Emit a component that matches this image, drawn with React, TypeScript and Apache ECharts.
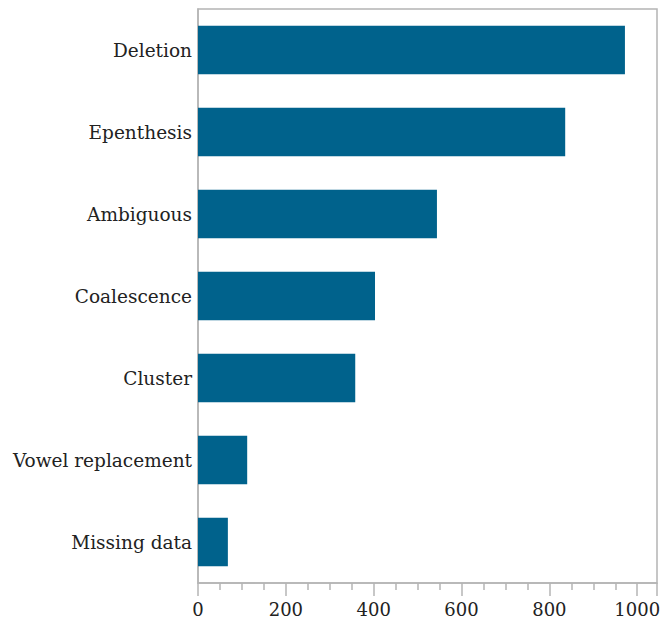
import React, { useEffect, useRef } from "react";
import * as echarts from "echarts";

const categories = [
  "Deletion",
  "Epenthesis",
  "Ambiguous",
  "Coalescence",
  "Cluster",
  "Vowel replacement",
  "Missing data",
];
const values = [972, 836, 544, 403, 358, 112, 68];
const xMin = 0;
const xMax = 1045;
const xStep = 200;

export default function App() {
  const ref = useRef<HTMLDivElement>(null);
  useEffect(() => {
    if (!ref.current) return;
    const chart = echarts.init(ref.current, null, { renderer: "svg" });
    const font = '"DejaVu Serif", serif';
    chart.setOption({
      animation: false,
      backgroundColor: "#ffffff",
      textStyle: { fontFamily: font },
      grid: {
        left: 198,
        right: 5,
        top: 9,
        bottom: 41,
        show: true,
        borderColor: "#b4b4b4",
        borderWidth: 1.5,
        containLabel: false,
        outerBoundsMode: "none",
      },
      xAxis: {
        type: "value",
        min: xMin,
        max: xMax,
        interval: xStep,
        splitLine: { show: false },
        axisLine: { show: true, lineStyle: { color: "#b4b4b4", width: 1.5 } },
        axisTick: { show: true, length: 13, lineStyle: { color: "#b4b4b4", width: 1.5 } },
        minorTick: { show: true, splitNumber: 4, length: 7, lineStyle: { color: "#b4b4b4", width: 1.5 } },
        axisLabel: {
          color: "#222",
          fontFamily: font,
          fontSize: 18,
          margin: 17,
          showMaxLabel: false,
          formatter: (v: number) => String(v),
        },
      },
      yAxis: {
        type: "category",
        data: categories,
        inverse: true,
        axisLine: { show: true, lineStyle: { color: "#b4b4b4", width: 1.5 } },
        axisTick: { show: false },
        axisLabel: {
          color: "#222",
          fontFamily: font,
          fontSize: 18.5,
          margin: 6,
        },
      },
      series: [
        {
          type: "bar",
          data: values,
          barCategoryGap: "41%",
          itemStyle: { color: "#00628c" },
        },
      ],
    });
    return () => chart.dispose();
  }, []);
  return (
    <div
      ref={ref}
      style={{ position: "absolute", left: 0, top: 0, width: 662, height: 624 }}
    />
  );
}
